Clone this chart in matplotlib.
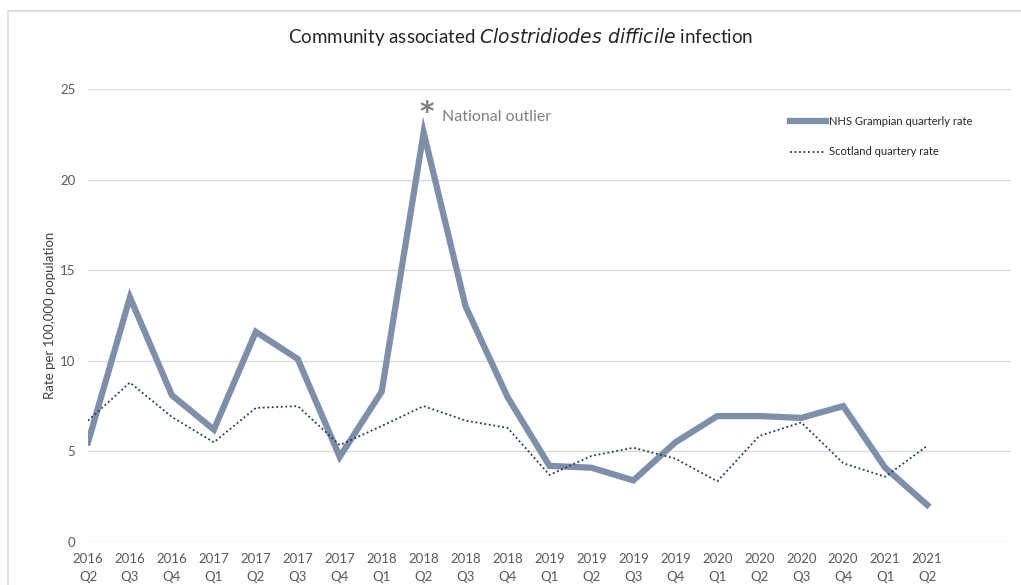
import matplotlib.pyplot as plt
from matplotlib.patches import Rectangle

# ------------------------------------------------------------
# Données
# ------------------------------------------------------------
years = ['2016', '2016', '2016', '2017', '2017', '2017', '2017', '2018', '2018', '2018', '2018',
         '2019', '2019', '2019', '2019', '2020', '2020', '2020', '2020', '2021', '2021']
quarters = ['Q2', 'Q3', 'Q4', 'Q1', 'Q2', 'Q3', 'Q4', 'Q1', 'Q2', 'Q3', 'Q4',
            'Q1', 'Q2', 'Q3', 'Q4', 'Q1', 'Q2', 'Q3', 'Q4', 'Q1', 'Q2']
grampian = [5.5, 13.5, 8.1, 6.2, 11.6, 10.1, 4.7, 8.3, 22.6, 13.0, 8.0,
            4.2, 4.1, 3.4, 5.5, 6.95, 6.95, 6.85, 7.5, 4.1, 2.05]
scotland = [6.7, 8.8, 6.9, 5.5, 7.4, 7.5, 5.35, 6.4, 7.5, 6.7, 6.3,
            3.7, 4.75, 5.2, 4.6, 3.35, 5.85, 6.6, 4.35, 3.6, 5.3]
y_ticks = [0, 5, 10, 15, 20, 25]

labels = [f'{y}\n{q}' for y, q in zip(years, quarters)]
x = list(range(len(labels)))

plt.rcParams['font.family'] = ['Lato', 'DejaVu Sans']
GRIS = '#595959'

fig = plt.figure(figsize=(10.21, 5.85), dpi=100)
ax = fig.add_axes([88 / 1021, 1 - 542 / 585, (1011 - 88) / 1021, (542 - 89) / 585])

# cadre du graphique (bordure grise claire)
fig.patches.append(Rectangle((8 / 1021, -0.1), 1.2, 1 - 11 / 585 + 0.1,
                             transform=fig.transFigure, fill=False,
                             edgecolor='#d9d9d9', linewidth=1.2, zorder=0))

ax.plot(x, grampian, color='#7f8fa9', linewidth=4.5, solid_joinstyle='miter',
        label='NHS Grampian quarterly rate', zorder=3)
ax.plot(x, scotland, color='#1f3864', linewidth=1.3, linestyle=(0, (1, 1.5)),
        label='Scotland quartery rate', zorder=4)

ax.set_xlim(0, 22)
ax.set_ylim(0, 25)
ax.set_yticks(y_ticks)
ax.set_xticks(x)
ax.set_xticklabels(labels, fontsize=9.5, color=GRIS, linespacing=1.6)
ax.tick_params(axis='y', labelsize=9.5, labelcolor=GRIS, length=0, pad=9)
ax.tick_params(axis='x', length=0, pad=8)
ax.grid(axis='y', color='#d9d9d9', linewidth=0.9)
ax.set_axisbelow(True)
for s in ax.spines.values():
    s.set_visible(False)

ax.set_ylabel('Rate per 100,000 population', fontsize=9.5, color='#404040', labelpad=3)

fig.text(521 / 1021, 1 - 37 / 585, 'Community associated $\\it{Clostridiodes\\ difficile}$ infection',
         ha='center', va='center', fontsize=13.5, color='#262626')

# annotation du pic
fig.text(427 / 1021, 1 - 113 / 585, '*', fontsize=20, color='#7f7f7f', ha='center', va='center',
         fontweight='bold', family='DejaVu Sans')
fig.text(442 / 1021, 1 - 117 / 585, 'National outlier',
         fontsize=11.5, color='#7f7f7f', ha='left', va='center')

leg = ax.legend(loc='upper left', bbox_to_anchor=(780 / 1021, 1 - 106 / 585),
                bbox_transform=fig.transFigure, frameon=False, fontsize=8,
                handlelength=3.2, handletextpad=0.3, labelspacing=1.75)
for t in leg.get_texts():
    t.set_color('#262626')

fig.savefig('out.png', dpi=100)
